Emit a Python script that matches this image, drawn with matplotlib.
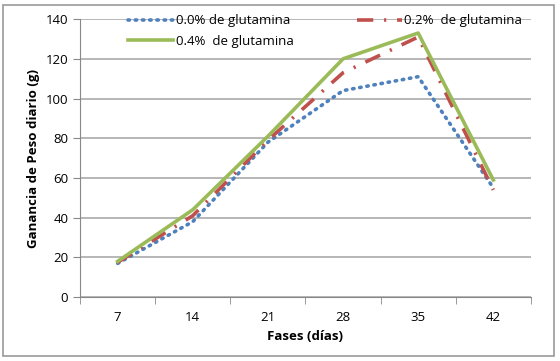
import matplotlib
matplotlib.use("Agg")
from matplotlib import pyplot as plt
from matplotlib.patches import Rectangle
import numpy as np

fases = ["7", "14", "21", "28", "35", "42"]
glut_00 = [17, 38, 78, 104, 111, 55]
glut_02 = [17.5, 41, 79, 113, 131, 54]
glut_04 = [18, 44, 81, 120, 133, 59]

plt.rcParams['font.family'] = ['Open Sans', 'DejaVu Sans']

fig = plt.figure(figsize=(5.6, 3.61), dpi=100)
ax = fig.add_axes([0.143, 0.177, 0.805, 0.77])

x = np.arange(len(fases))
l0, = ax.plot(x, glut_00, color="#4F81BD", lw=2.6, linestyle=(0, (0.4, 1.6)),
              dash_capstyle="round", label="0.0% de glutamina")
l2, = ax.plot(x, glut_02, color="#C0504D", lw=2.6, linestyle=(0, (4.5, 3, 0.6, 3)),
              label="0.2%  de glutamina")
l4, = ax.plot(x, glut_04, color="#9BBB59", lw=2.6, label="0.4%  de glutamina")

ax.set_xlim(-0.5, len(fases) - 0.5)
ax.set_ylim(0, 140)
ax.set_yticks(range(0, 141, 20))
ax.set_xticks(x)
ax.set_xticklabels(fases)
ax.set_xticks(np.arange(-0.5, len(fases), 1), minor=True)
ax.tick_params(axis="x", which="major", length=0, pad=10, labelsize=9.5)
ax.tick_params(axis="x", which="minor", length=5, color="#888888", direction="out")
ax.tick_params(axis="y", length=5, color="#888888", labelsize=9.5)
ax.grid(axis="y", color="#AAAAAA", lw=1.2)
ax.set_axisbelow(True)
for s in ["top", "right"]:
    ax.spines[s].set_visible(False)
for s in ["left", "bottom"]:
    ax.spines[s].set_color("#888888")

ax.set_xlabel("Fases (días)", fontweight="bold", fontsize=9.5, labelpad=4)
ax.set_ylabel("Ganancia de Peso diario (g)", fontweight="bold", fontsize=9.5)

ax.legend(handles=[l0, l4, l2], ncol=2, frameon=False, fontsize=9.5,
          loc="upper left", bbox_to_anchor=(0.08, 1.06), handlelength=3.4,
          handletextpad=0.2, columnspacing=4.8, labelspacing=0.55)

fig.patches.append(Rectangle((0.005, 0.015), 0.985, 0.97, transform=fig.transFigure,
                             fill=False, edgecolor="#999999", lw=1.2))

plt.savefig("out.png")
